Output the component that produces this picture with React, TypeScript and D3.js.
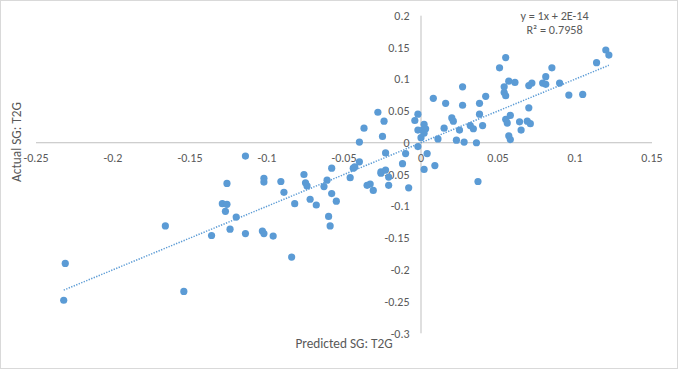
import React from 'react';
import * as d3 from 'd3';

const predicted = [
  -0.232, -0.231, -0.166, -0.154, -0.136, -0.129, -0.126, -0.127, -0.126, -0.124,
  -0.120, -0.114, -0.114, -0.103, -0.102, -0.102, -0.102, -0.096, -0.091, -0.089,
  -0.084, -0.082, -0.076, -0.075, -0.074, -0.072, -0.068, -0.063, -0.061, -0.060,
  -0.059, -0.058, -0.058, -0.055, -0.046, -0.044, -0.043, -0.040, -0.040, -0.037,
  -0.035, -0.033, -0.031, -0.028, -0.026, -0.026, -0.025, -0.024, -0.023, -0.023,
  -0.021, -0.021, -0.012, -0.010, -0.008, -0.004, -0.002, -0.002, -0.002, 0.000,
  0.001, 0.002, 0.003, 0.002, 0.002, 0.004, 0.008, 0.009, 0.011, 0.015,
  0.016, 0.020, 0.021, 0.023, 0.025, 0.027, 0.027, 0.028, 0.032, 0.034,
  0.036, 0.037, 0.038, 0.038, 0.040, 0.042, 0.051, 0.055, 0.054, 0.054,
  0.055, 0.057, 0.061, 0.055, 0.056, 0.058, 0.057, 0.058, 0.064, 0.065,
  0.069, 0.070, 0.071, 0.070, 0.072, 0.079, 0.081, 0.081, 0.085, 0.090,
  0.096, 0.105, 0.114, 0.120, 0.122,
];

const actual = [
  -0.248, -0.190, -0.131, -0.234, -0.146, -0.096, -0.097, -0.108, -0.064, -0.136,
  -0.117, -0.143, -0.021, -0.139, -0.143, -0.056, -0.062, -0.147, -0.061, -0.078,
  -0.180, -0.096, -0.050, -0.063, -0.068, -0.089, -0.098, -0.069, -0.059, -0.116,
  -0.131, -0.080, -0.040, -0.092, -0.055, -0.040, -0.038, 0.001, -0.030, 0.023,
  -0.067, -0.065, -0.075, 0.048, -0.048, -0.046, 0.010, 0.034, -0.043, -0.016,
  -0.067, -0.054, -0.033, -0.017, -0.071, 0.035, 0.045, 0.020, -0.006, 0.008,
  0.020, 0.029, 0.022, 0.015, -0.042, -0.017, 0.070, -0.036, 0.006, 0.023,
  0.062, 0.039, 0.034, 0.004, 0.020, 0.088, 0.059, 0.001, 0.027, 0.022,
  0.000, -0.061, 0.062, 0.045, 0.027, 0.073, 0.118, 0.134, 0.088, 0.079,
  0.074, 0.097, 0.095, 0.037, 0.031, 0.043, 0.011, 0.005, 0.033, 0.020,
  0.034, 0.055, 0.030, 0.090, 0.094, 0.094, 0.104, 0.092, 0.118, 0.094,
  0.075, 0.076, 0.126, 0.146, 0.138,
];

const xTicks = [-0.25, -0.2, -0.15, -0.1, -0.05, 0, 0.05, 0.1, 0.15];
const xTickLabels = ['-0.25', '-0.2', '-0.15', '-0.1', '-0.05', '0', '0.05', '0.1', '0.15'];
const yTicks = [0.2, 0.15, 0.1, 0.05, 0, -0.05, -0.1, -0.15, -0.2, -0.25, -0.3];
const yTickLabels = ['0.2', '0.15', '0.1', '0.05', '0', '-0.05', '-0.1', '-0.15', '-0.2', '-0.25', '-0.3'];

// linear trendline as reported on the chart
const trendSlope = 1;
const trendIntercept = 2e-14;
const trendLabel = ['y = 1x + 2E-14', 'R² = 0.7958'];

const width = 678;
const height = 369;
const blue = '#5B9BD5';
const textColor = '#595959';
const font = "Carlito, Calibri, 'Liberation Sans', Arial, sans-serif";

const App = () => {
  const x = d3.scaleLinear().domain([-0.25, 0.15]).range([36, 652]);
  const y = d3.scaleLinear().domain([-0.3, 0.2]).range([333.3, 15.7]);

  const points = predicted.map((p, i) => ({ p, a: actual[i] }));
  const xMin = d3.min(predicted) as number;
  const xMax = d3.max(predicted) as number;
  const trend = [xMin, xMax].map(v => [x(v), y(trendSlope * v + trendIntercept)] as [number, number]);
  const line = d3.line();

  return (
    <svg
      width={width}
      height={height}
      style={{ position: 'absolute', left: 0, top: 0, background: '#fff' }}
      fontFamily={font}
    >
      <rect x={0.5} y={0.5} width={width - 1} height={height - 1} fill="#fff" stroke="#d9d9d9" />

      {/* axes crossing at 0,0 */}
      <line x1={x(-0.25)} x2={x(0.15)} y1={y(0)} y2={y(0)} stroke="#bfbfbf" strokeWidth={1} />
      <line x1={x(0)} x2={x(0)} y1={y(0.2)} y2={y(-0.3)} stroke="#bfbfbf" strokeWidth={1} />

      {xTicks.map((t, i) => (
        <text key={'x' + i} x={x(t)} y={y(0) + 15} dy="0.35em" textAnchor="middle" fontSize={12} fill={textColor}>
          {xTickLabels[i]}
        </text>
      ))}
      {yTicks.map((t, i) => (
        <text key={'y' + i} x={x(0) - 11.5} y={y(t)} dy="0.35em" textAnchor="end" fontSize={12} fill={textColor}>
          {yTickLabels[i]}
        </text>
      ))}

      <text x={16} y={142} transform="rotate(-90 16 142)" dy="0.35em" textAnchor="middle" fontSize={13.3} fill={textColor}>
        Actual SG: T2G
      </text>
      <text x={344} y={343.5} dy="0.35em" textAnchor="middle" fontSize={13.3} fill={textColor}>
        Predicted SG: T2G
      </text>

      {points.map((d, i) => (
        <circle key={i} cx={x(d.p)} cy={y(d.a)} r={3.6} fill={blue} />
      ))}

      <path
        d={line(trend) || ''}
        fill="none"
        stroke={blue}
        strokeWidth={1.5}
        strokeDasharray="1.3 1.4"
      />

      <text x={554.6} y={15.8} dy="0.35em" textAnchor="middle" fontSize={12.2} fill={textColor}>
        {trendLabel[0]}
      </text>
      <text x={554.6} y={30} dy="0.35em" textAnchor="middle" fontSize={12.2} fill={textColor}>
        {trendLabel[1]}
      </text>
    </svg>
  );
};

export default App;
